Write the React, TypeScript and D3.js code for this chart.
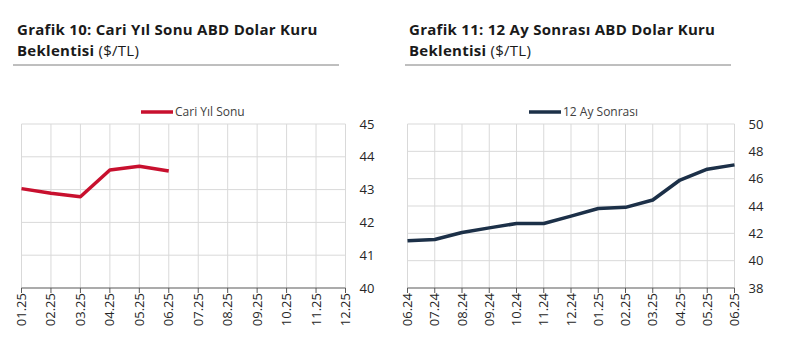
import * as d3 from 'd3';

// Grafik 10 – Cari Yıl Sonu
const months10 = ['01.25', '02.25', '03.25', '04.25', '05.25', '06.25', '07.25', '08.25', '09.25', '10.25', '11.25', '12.25'];
const cariYilSonu = [43.03, 42.89, 42.78, 43.6, 43.71, 43.57];
const ticks10 = [40, 41, 42, 43, 44, 45];

// Grafik 11 – 12 Ay Sonrası
const months11 = ['06.24', '07.24', '08.24', '09.24', '10.24', '11.24', '12.24', '01.25', '02.25', '03.25', '04.25', '05.25', '06.25'];
const aySonrasi = [41.45, 41.55, 42.06, 42.4, 42.72, 42.72, 43.26, 43.82, 43.9, 44.44, 45.9, 46.69, 47.01];
const ticks11 = [38, 40, 42, 44, 46, 48, 50];

const FONT = '"Open Sans", sans-serif';

type PanelProps = {
  x0: number;
  title1: string;
  title2: string;
  legend: string;
  color: string;
  months: string[];
  values: number[];
  ticks: number[];
  plotLeft: number;
  plotRight: number;
  legendX: number;
};

function Panel({ x0, title1, title2, legend, color, months, values, ticks, plotLeft, plotRight, legendX }: PanelProps) {
  const top = 124;
  const bottom = 288;
  const x = d3.scalePoint<string>().domain(months).range([plotLeft, plotRight]);
  const y = d3.scaleLinear().domain([ticks[0], ticks[ticks.length - 1]]).range([bottom, top]);
  const line = d3.line<number>()
    .x((_, i) => x(months[i]) as number)
    .y(d => y(d));

  return (
    <g>
      <text x={x0 + 4} y={35.2} fontFamily={FONT} fontSize={15} letterSpacing={0.28} fontWeight="bold" fill="#1a1a1a">{title1}</text>
      <text x={x0 + 4} y={55.8} fontFamily={FONT} fontSize={15} letterSpacing={0.28} fill="#1a1a1a">
        <tspan fontWeight="bold">{title2}</tspan>
        <tspan dx={4}>($/TL)</tspan>
      </text>
      <line x1={x0} x2={x0 + 326} y1={65} y2={65} stroke="#7f7f7f" strokeWidth={1} />

      {/* legend */}
      <line x1={legendX} x2={legendX + 32} y1={112} y2={112} stroke={color} strokeWidth={3.5} />
      <text x={legendX + 34} y={116} fontFamily={FONT} fontSize={12} fill="#404040">{legend}</text>

      {/* grid */}
      {ticks.slice(1).map(t => (
        <line key={'h' + t} x1={plotLeft} x2={plotRight} y1={y(t)} y2={y(t)} stroke="#d9d9d9" strokeWidth={1} />
      ))}
      {months.map(m => (
        <line key={'v' + m} x1={x(m)} x2={x(m)} y1={top} y2={bottom} stroke="#d9d9d9" strokeWidth={1} />
      ))}

      {/* axis */}
      <line x1={plotLeft} x2={plotRight} y1={bottom} y2={bottom} stroke="#595959" strokeWidth={1.2} />
      {months.map(m => (
        <line key={'t' + m} x1={x(m)} x2={x(m)} y1={bottom} y2={bottom + 5} stroke="#595959" strokeWidth={1} />
      ))}
      {months.map(m => (
        <text
          key={'l' + m}
          transform={`translate(${(x(m) as number) + 4.5},${bottom + 5}) rotate(-90)`}
          textAnchor="end"
          fontFamily={FONT}
          fontSize={13}
          fill="#262626"
        >{m}</text>
      ))}
      {ticks.map(t => (
        <text key={'y' + t} x={plotRight + 14} y={y(t) + 4.5} fontFamily={FONT} fontSize={13} fill="#262626">{t}</text>
      ))}

      <path d={line(values) ?? ''} fill="none" stroke={color} strokeWidth={3.5} strokeLinejoin="round" />
    </g>
  );
}

export default function App() {
  return (
    <svg width={802} height={352} style={{ position: 'absolute', left: 0, top: 0, background: '#fff' }}>
      <rect width={802} height={352} fill="#fff" />
      <Panel
        x0={13}
        title1="Grafik 10: Cari Yıl Sonu ABD Dolar Kuru"
        title2="Beklentisi"
        legend="Cari Yıl Sonu"
        color="#c8102e"
        months={months10}
        values={cariYilSonu}
        ticks={ticks10}
        plotLeft={21.5}
        plotRight={345.5}
        legendX={141}
      />
      <Panel
        x0={405}
        title1="Grafik 11: 12 Ay Sonrası ABD Dolar Kuru"
        title2="Beklentisi"
        legend="12 Ay Sonrası"
        color="#1c3048"
        months={months11}
        values={aySonrasi}
        ticks={ticks11}
        plotLeft={407.5}
        plotRight={734.5}
        legendX={529}
      />
    </svg>
  );
}
